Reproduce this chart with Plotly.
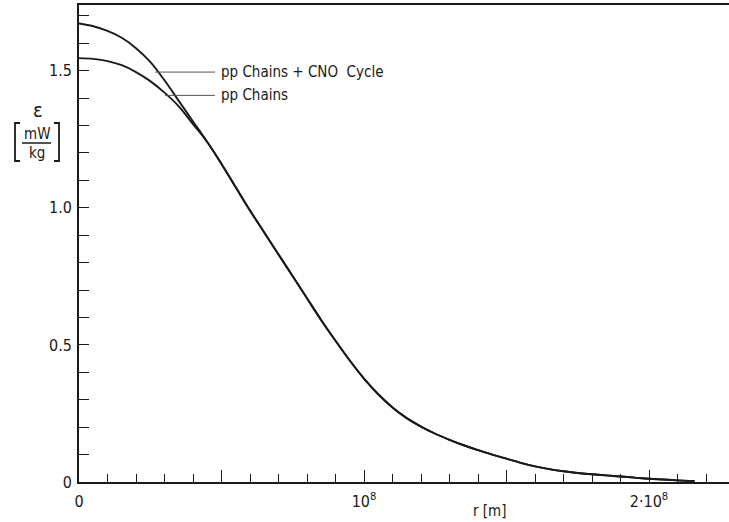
import plotly.graph_objects as go

# radius in units of 1e8 m
r_cno = [0.0, 0.05, 0.1, 0.15, 0.2, 0.25, 0.3, 0.35, 0.4, 0.45, 0.5, 0.55, 0.6, 0.65, 0.7,
         0.75, 0.8, 0.85, 0.9, 0.95, 1.0, 1.05, 1.1, 1.15, 1.2, 1.25, 1.3, 1.35, 1.4,
         1.45, 1.5, 1.55, 1.6, 1.65, 1.7, 1.75, 1.8, 1.85, 1.9, 1.95, 2.0, 2.05, 2.1, 2.16]
eps_cno = [1.672, 1.662, 1.645, 1.62, 1.582, 1.532, 1.465, 1.39, 1.315, 1.24, 1.16, 1.075,
           0.99, 0.91, 0.83, 0.75, 0.67, 0.59, 0.515, 0.443, 0.377, 0.320, 0.272, 0.233,
           0.202, 0.176, 0.154, 0.134, 0.116, 0.100, 0.085, 0.070, 0.057, 0.047, 0.039,
           0.033, 0.028, 0.024, 0.020, 0.016, 0.012, 0.009, 0.006, 0.003]

r_pp = [0.0, 0.05, 0.1, 0.15, 0.2, 0.25, 0.3, 0.35, 0.4, 0.45]
eps_pp = [1.546, 1.543, 1.535, 1.52, 1.495, 1.462, 1.42, 1.37, 1.305, 1.24]
# pp chains coincide with the combined curve beyond r ~ 0.45e8 m
r_pp = r_pp + r_cno[10:]
eps_pp = eps_pp + eps_cno[10:]

y_tickvals = [0, 0.5, 1.0, 1.5]
y_ticktext = ["0", "0.5", "1.0", "1.5"]
x_tickvals = [0, 1, 2]
x_ticktext = ["0", "10<sup>8</sup>", "2·10<sup>8</sup>"]
x_halfticks = [0.5, 1.5]

FONT = "DejaVu Sans Condensed, Liberation Sans Narrow, DejaVu Sans, sans-serif"
INK = "#1a1a1a"

fig = go.Figure()
fig.add_trace(go.Scatter(x=r_cno, y=eps_cno, mode="lines", line=dict(color=INK, width=1.9, shape="spline"),
                         name="pp Chains + CNO Cycle", showlegend=False))
fig.add_trace(go.Scatter(x=r_pp, y=eps_pp, mode="lines", line=dict(color=INK, width=1.9, shape="spline"),
                         name="pp Chains", showlegend=False))
fig.add_trace(go.Scatter(x=[], y=[], xaxis="x2", showlegend=False, hoverinfo="skip"))

W, H = 729, 522
L, R, T, B = 79, 0, 5, 40
pw, ph = W - L - R, H - T - B
XR = [0, pw / 285.0]
def px(x):
    return (x - L) / pw
def py(y):
    return (H - B - y) / ph

fig.update_layout(
    width=W, height=H,
    margin=dict(l=L, r=R, t=T, b=B, pad=0),
    paper_bgcolor="white", plot_bgcolor="white",
    font=dict(family=FONT, color=INK, size=16),
    xaxis=dict(range=XR, showgrid=False, zeroline=False,
               showline=True, linecolor=INK, linewidth=1.5, mirror=True,
               tickmode="array", tickvals=x_tickvals, ticktext=x_ticktext,
               ticks="inside", ticklen=12, tickwidth=1.3, tickcolor=INK,
               minor=dict(tickmode="linear", tick0=0, dtick=0.1, ticks="inside",
                          ticklen=8, tickwidth=1.3, tickcolor=INK),
               tickfont=dict(size=16), ticklabelstandoff=4),
    xaxis2=dict(range=XR, overlaying="x", side="bottom", showgrid=False, zeroline=False,
                showline=False, tickmode="array", tickvals=x_halfticks,
                ticks="inside", ticklen=12, tickwidth=1.3, tickcolor=INK,
                showticklabels=False),
    yaxis=dict(range=[0, (H - B - T) / 274.2], showgrid=False, zeroline=False,
               showline=True, linecolor=INK, linewidth=1.8,
               tickmode="array", tickvals=y_tickvals, ticktext=y_ticktext,
               ticks="inside", ticklen=10, tickwidth=1.3, tickcolor=INK,
               minor=dict(tickmode="linear", tick0=0, dtick=0.1, ticks="inside",
                          ticklen=10, tickwidth=1.3, tickcolor=INK),
               tickfont=dict(size=16), ticklabelstandoff=2),
)

# leader lines and curve labels
fig.add_shape(type="line", x0=0.267, x1=0.477, y0=1.495, y1=1.495, line=dict(color="#555", width=1))
fig.add_shape(type="line", x0=0.302, x1=0.477, y0=1.41, y1=1.41, line=dict(color="#555", width=1))
fig.add_annotation(x=0.49, y=1.495, text="pp Chains + CNO  Cycle", showarrow=False,
                   xanchor="left", yanchor="middle", font=dict(size=15))
fig.add_annotation(x=0.49, y=1.41, text="pp Chains", showarrow=False,
                   xanchor="left", yanchor="middle", font=dict(size=15))

# axis titles
fig.add_annotation(xref="paper", yref="paper", x=px(490), y=py(511), text="r [m]", showarrow=False,
                   xanchor="center", yanchor="middle", font=dict(size=15))
fig.add_annotation(xref="paper", yref="paper", x=px(38), y=py(110), text="ε", showarrow=False,
                   xanchor="center", yanchor="middle", font=dict(size=20))
fig.add_annotation(xref="paper", yref="paper", x=px(37), y=py(134), text="mW", showarrow=False,
                   xanchor="center", yanchor="middle", font=dict(size=15))
fig.add_annotation(xref="paper", yref="paper", x=px(37), y=py(153), text="kg", showarrow=False,
                   xanchor="center", yanchor="middle", font=dict(size=15))
fig.add_shape(type="line", xref="paper", yref="paper", x0=px(22), x1=px(51), y0=py(143), y1=py(143),
              line=dict(color=INK, width=1.5))
fig.add_shape(type="path", xref="paper", yref="paper",
              path=f"M {px(20)} {py(123)} L {px(15)} {py(123)} L {px(15)} {py(161)} L {px(20)} {py(161)}",
              line=dict(color=INK, width=1.8))
fig.add_shape(type="path", xref="paper", yref="paper",
              path=f"M {px(54)} {py(123)} L {px(59)} {py(123)} L {px(59)} {py(161)} L {px(54)} {py(161)}",
              line=dict(color=INK, width=1.8))

fig.write_html("out.html")
